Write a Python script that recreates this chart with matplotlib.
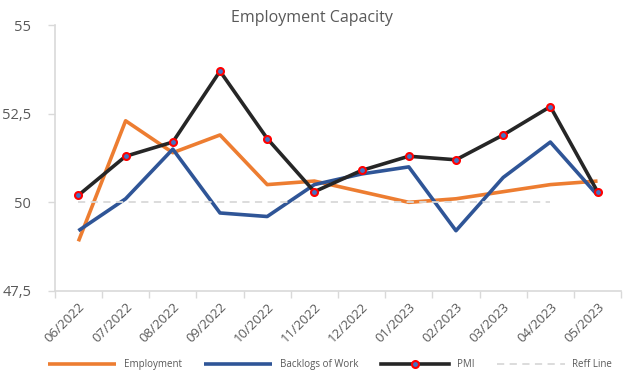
import numpy as np
import matplotlib
matplotlib.use("Agg")
import matplotlib.pyplot as plt

months = ["06/2022", "07/2022", "08/2022", "09/2022", "10/2022", "11/2022",
          "12/2022", "01/2023", "02/2023", "03/2023", "04/2023", "05/2023"]
employment = [48.9, 52.3, 51.4, 51.9, 50.5, 50.6, 50.3, 50.0, 50.1, 50.3, 50.5, 50.6]
backlogs = [49.2, 50.1, 51.5, 49.7, 49.6, 50.5, 50.8, 51.0, 49.2, 50.7, 51.7, 50.2]
pmi = [50.2, 51.3, 51.7, 53.7, 51.8, 50.3, 50.9, 51.3, 51.2, 51.9, 52.7, 50.3]
reff = [50, 50, 50, 50, 50, 50, 50, 50, 50, 50, 50, np.nan]
yticks = [47.5, 50, 52.5, 55]
ytick_labels = ["47,5", "50", "52,5", "55"]

plt.rcParams['font.family'] = ['Open Sans', 'DejaVu Sans']
txt = "#595959"
axc = "#D9D9D9"

fig = plt.figure(figsize=(6.23, 3.74), dpi=100)
ax = fig.add_axes([0.088, 0.222, 0.909, 0.711])
x = np.arange(len(months))

ax.plot(x, employment, color="#ED7D31", lw=2.6, label="Employment", solid_capstyle="butt")
ax.plot(x, backlogs, color="#2F5597", lw=2.6, label="Backlogs of Work", solid_capstyle="butt")
ax.plot(x, pmi, color="#262626", lw=2.6, marker="o", ms=5, mfc="#4472C4",
        mec="#FF0000", mew=1.5, label="PMI")
ax.plot(x, reff, color="#D9D9D9", lw=1.3, ls=(0, (4, 3)), label="Reff Line")

ax.set_xlim(-0.5, 11.5)
ax.set_ylim(47.5, 55)
ax.set_yticks(yticks)
ax.set_yticklabels(ytick_labels)
ax.set_xticks(x)
ax.set_xticklabels(months, rotation=45, ha="right", rotation_mode="anchor")
ax.set_xticks(np.arange(-0.5, 12, 1), minor=True)
ax.tick_params(axis="x", which="major", length=0, labelsize=9.5, colors=txt, pad=7)
ax.tick_params(axis="x", which="minor", length=5, color=axc, width=1)
ax.tick_params(axis="y", length=5, color=axc, width=1, labelsize=10.5, labelcolor=txt, pad=12)

for s in ["top", "right"]:
    ax.spines[s].set_visible(False)
ax.spines["left"].set_color(axc)
ax.spines["bottom"].set_color(axc)
ax.spines["left"].set_linewidth(1.2)
ax.spines["bottom"].set_linewidth(1.2)

fig.text(0.5, 0.952, "Employment Capacity", ha="center", va="center", fontsize=11.5, color=txt)

leg = fig.legend(loc="center", bbox_to_anchor=(0.53, 0.025), ncol=4, frameon=False,
                 fontsize=7, handlelength=7, columnspacing=2.3, handletextpad=0.8)
for t in leg.get_texts():
    t.set_color(txt)

fig.savefig("out.png", dpi=100)
